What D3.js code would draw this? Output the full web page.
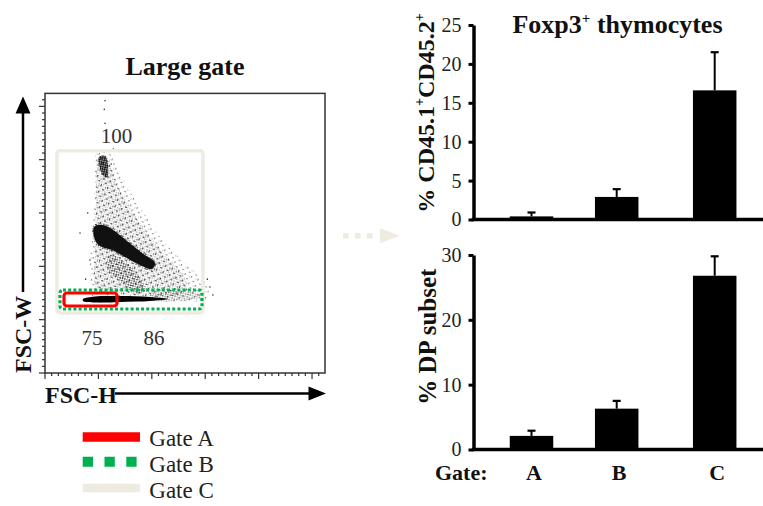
<!DOCTYPE html>
<html><head><meta charset="utf-8">
<script src="https://cdn.jsdelivr.net/npm/d3@7"></script>
<style>
body{margin:0;background:#fff;}
svg{display:block;font-family:"Liberation Serif","Times New Roman",serif;}
</style></head><body>
<svg id="c" width="763" height="506"></svg>
<script>
// ---------------- data ----------------
const gates = ["A", "B", "C"];
const foxp3Mean = [0.4, 2.9, 16.6];
const foxp3Err = [0.5, 1.0, 4.9];
const dpMean = [2.1, 6.3, 26.8];
const dpErr = [0.8, 1.2, 3.0];
const foxp3Ticks = [0, 5, 10, 15, 20, 25];
const dpTicks = [0, 10, 20, 30];
const legendLabels = ["Gate A", "Gate B", "Gate C"];
// flow plot values in FSC channel units (thousands)
const fscMax = 262.144;
const gateA = [17.8, 67.4, 62.8, 75.0];   // x0,x1,y0,y1
const gateB = [14.0, 147.0, 60.0, 77.8];
const gateC = [11.2, 147.9, 56.3, 208.4];
const gatePctLabels = ["100", "75", "86"];
const gatePctX = [67, 44, 102];
const gatePctY = [222, 33, 33];
// event-density regions
const sparseRegion = [[48.7,207.2],[59.0,207.2],[74.9,178.1],[90.8,152.8],[107.6,127.5],[131.0,103.1],[149.8,85.3],[152.6,70.3],[98.3,68.4],[46.8,68.4],[42.1,96.6],[44.9,134.1],[46.8,176.3]];
const mediumRegion = [[50.5,202.5],[58.0,202.5],[67.4,176.3],[79.6,154.7],[93.6,134.1],[112.3,110.6],[131.0,89.1],[131.0,75.0],[70.2,74.1],[48.7,77.8],[46.8,115.3],[47.7,162.2]];
const mediumTail = [[98.3,73.1],[145.1,74.9],[149.8,71.3],[98.3,68.4]];
const denseBand = [[60.8,110.6],[74.9,104.1],[87.0,91.9],[93.6,77.8],[84.2,75.0],[72.1,84.4],[58.0,98.4]];
const denseSpike = [[50.5,202.5],[56.2,203.4],[59.0,195.0],[58.0,182.8],[54.3,185.6],[50.5,195.0]];
const denseBlob = [[45.9,136.9],[54.3,138.8],[63.7,134.1],[76.8,123.8],[90.8,112.5],[103.0,103.1],[100.2,97.5],[88.9,101.3],[74.9,108.8],[62.7,115.3],[51.5,119.1],[46.8,124.7]];
const denseStreak = [[35.6,69.4],[46.8,71.8],[70.2,72.2],[98.3,71.3],[115.4,69.4],[98.3,67.5],[70.2,66.6],[46.8,66.1],[35.6,67.5]];
const outlierX = [56.2, 55.5, 56.2, 32.8, 42.1, 154.4, 157.2, 152.0, 62.0, 40.0, 38.0, 64.0];
const outlierY = [255.3, 247.2, 234.1, 131.3, 105.9, 80.6, 73.1, 88.0, 196.0, 150.0, 88.0, 210.0];

// ---------------- drawing ----------------
const svg = d3.select("#c");
const FONT = '"Liberation Serif","Times New Roman",serif';
const defs = svg.append("defs");
function pattern(id, size, rot, dots) {
  const p = defs.append("pattern").attr("id", id).attr("patternUnits","userSpaceOnUse")
    .attr("width", size).attr("height", size).attr("patternTransform", `rotate(${rot})`);
  dots.forEach(d => p.append("circle").attr("cx", d[0]).attr("cy", d[1]).attr("r", d[2]).attr("fill", "#111"));
}
pattern("pSparse", 7, 23, [[1,1.5,0.6],[4.6,4.9,0.55],[2.8,5.9,0.4]]);
pattern("pMed", 3.4, -31, [[0.8,0.8,0.7],[2.5,2.4,0.55]]);
pattern("pDense", 2.2, 12, [[1.1,1.1,1.05]]);

// ---- flow plot ----
const fx = d3.scaleLinear([0, fscMax], [45, 325]);
const fy = d3.scaleLinear([0, fscMax], [373, 93.4]);
const line = d3.line().x(d => fx(d[0])).y(d => fy(d[1])).curve(d3.curveCatmullRomClosed.alpha(0.5));

const flow = svg.append("g");
flow.append("path").datum(sparseRegion).attr("d", line).attr("fill","url(#pSparse)");
flow.append("path").datum(mediumRegion).attr("d", line).attr("fill","url(#pSparse)");
flow.append("path").datum(mediumRegion).attr("d", line).attr("fill","url(#pMed)").attr("opacity",0.4);
flow.append("path").datum(mediumTail).attr("d", line).attr("fill","url(#pMed)").attr("opacity",0.7);
flow.append("path").datum(denseBand).attr("d", line).attr("fill","url(#pMed)");
flow.append("path").datum(denseSpike).attr("d", line).attr("fill","url(#pDense)");
flow.append("path").datum(denseBlob).attr("d", line).attr("fill","#111");
flow.append("path").datum(denseBlob).attr("d", line).attr("fill","none").attr("stroke","url(#pMed)").attr("stroke-width",3);
flow.append("path").datum(denseStreak).attr("d", line).attr("fill","#000");
flow.selectAll("circle.out").data(outlierX).join("circle").attr("class","out")
  .attr("cx", d => fx(d)).attr("cy", (d,i) => fy(outlierY[i])).attr("r",0.8).attr("fill","#333");

// gates
function gateRect(g, color, w, dash) {
  const r = flow.append("rect")
    .attr("x", fx(g[0])).attr("y", fy(g[3]))
    .attr("width", fx(g[1]) - fx(g[0])).attr("height", fy(g[2]) - fy(g[3]))
    .attr("rx", 3).attr("fill","none").attr("stroke", color).attr("stroke-width", w);
  if (dash) r.attr("stroke-dasharray", dash);
}
gateRect(gateC, "#EEECE1", 3.5);
gateRect(gateB, "#00B050", 3.2, "3 2.2");
gateRect(gateA, "#FF0000", 3.2);

flow.selectAll("text.pct").data(gatePctLabels).join("text").attr("class","pct")
  .attr("x", (d,i) => fx(gatePctX[i])).attr("y", (d,i) => fy(gatePctY[i]))
  .attr("text-anchor","middle").attr("dominant-baseline","central")
  .attr("font-size",21).attr("fill","#333").text(d => d);

// box and ticks
flow.append("rect").attr("x",45).attr("y",fy(fscMax)).attr("width",fx(fscMax)-45)
  .attr("height",373-fy(fscMax)).attr("fill","none").attr("stroke","#333").attr("stroke-width",1.5);
const tickVals = d3.range(0, fscMax, 6.25);
flow.selectAll("line.yt").data(tickVals).join("line").attr("class","yt")
  .attr("x1",45).attr("x2", d => 45 - (d % 50 === 0 ? 6 : 3))
  .attr("y1", d => fy(d)).attr("y2", d => fy(d)).attr("stroke","#333").attr("stroke-width",1.2);
flow.selectAll("line.xt").data(tickVals).join("line").attr("class","xt")
  .attr("y1",373).attr("y2", d => 373 + (d % 50 === 0 ? 6 : 3))
  .attr("x1", d => fx(d)).attr("x2", d => fx(d)).attr("stroke","#333").attr("stroke-width",1.2);

// axis arrows
svg.append("line").attr("x1",23).attr("x2",23).attr("y1",292).attr("y2",110).attr("stroke","#000").attr("stroke-width",2.5);
svg.append("path").attr("d","M15.5,113.5 L23,96.5 L30.5,113.5 Z").attr("fill","#000");
svg.append("text").attr("transform","translate(31,373) rotate(-90)").attr("font-size",24)
  .attr("font-weight","bold").attr("fill","#111").text("FSC-W");
svg.append("text").attr("x",45).attr("y",403).attr("font-size",24)
  .attr("font-weight","bold").attr("fill","#111").text("FSC-H");
svg.append("line").attr("x1",115).attr("x2",312).attr("y1",393.5).attr("y2",393.5).attr("stroke","#000").attr("stroke-width",2.5);
svg.append("path").attr("d","M308.5,386.5 L326,393.5 L308.5,400.5 Z").attr("fill","#000");

svg.append("text").attr("x",185).attr("y",75).attr("text-anchor","middle").attr("font-size",26)
  .attr("font-weight","bold").attr("fill","#111").text("Large gate");

// legend
const leg = svg.append("g");
leg.append("line").attr("x1",82.7).attr("x2",140).attr("y1",437).attr("y2",437).attr("stroke","#FF0000").attr("stroke-width",9.5);
leg.append("line").attr("x1",82.7).attr("x2",140).attr("y1",461.7).attr("y2",461.7).attr("stroke","#00B050").attr("stroke-width",10).attr("stroke-dasharray","10.3 11.5");
leg.append("line").attr("x1",82.7).attr("x2",140).attr("y1",488).attr("y2",488).attr("stroke","#EEECE1").attr("stroke-width",8.5);
leg.selectAll("text").data(legendLabels).join("text")
  .attr("x",149.3).attr("y",(d,i) => [445.7,472.3,498.3][i])
  .attr("font-size",23).attr("fill","#222").text(d => d);

// arrow between panels
svg.append("line").attr("x1",343).attr("x2",378).attr("y1",235.7).attr("y2",235.7)
  .attr("stroke","#EEECE1").attr("stroke-width",5.5).attr("stroke-dasharray","5.5 6.5");
svg.append("path").attr("d","M380,228.3 L400,235.7 L380,243.3 Z").attr("fill","#EEECE1");

// ---- bar charts ----
const xb = d3.scaleOrdinal(gates, [531.5, 616.7, 714.7]);
const barW = 43.5;
const axisX = 473.5;

function barChart(yScale, ticks, means, errs) {
  const g = svg.append("g");
  g.selectAll("rect").data(gates).join("rect")
    .attr("x", d => xb(d) - barW/2).attr("width", barW)
    .attr("y", (d,i) => yScale(means[i])).attr("height", (d,i) => yScale(0) - yScale(means[i]))
    .attr("fill","#000");
  g.selectAll("line.err").data(gates).join("line").attr("class","err")
    .attr("x1", d => xb(d)).attr("x2", d => xb(d))
    .attr("y1", (d,i) => yScale(means[i])).attr("y2", (d,i) => yScale(means[i] + errs[i]))
    .attr("stroke","#000").attr("stroke-width",2);
  g.selectAll("line.cap").data(gates).join("line").attr("class","cap")
    .attr("x1", d => xb(d) - 4).attr("x2", d => xb(d) + 4)
    .attr("y1", (d,i) => yScale(means[i] + errs[i])).attr("y2", (d,i) => yScale(means[i] + errs[i]))
    .attr("stroke","#000").attr("stroke-width",2.2);
  const ax = g.append("g").attr("transform", `translate(${axisX},0)`)
    .call(d3.axisLeft(yScale).tickValues(ticks).tickSize(5).tickSizeOuter(0).tickPadding(7));
  ax.select(".domain").attr("stroke","#000").attr("stroke-width",3.5);
  ax.selectAll(".tick line").attr("stroke","#000").attr("stroke-width",3);
  ax.selectAll(".tick text").attr("font-family",FONT).attr("font-size",20).attr("fill","#222");
  g.append("line").attr("x1",axisX - 1.75).attr("x2",763).attr("y1",yScale(0)).attr("y2",yScale(0))
    .attr("stroke","#000").attr("stroke-width",3.5);
  return g;
}
const yTop = d3.scaleLinear([0, 25], [219.5, 25]);
const yBot = d3.scaleLinear([0, 30], [449.5, 255]);
barChart(yTop, foxp3Ticks, foxp3Mean, foxp3Err);
barChart(yBot, dpTicks, dpMean, dpErr);

// titles & labels
const t1 = svg.append("text").attr("x",617.5).attr("y",33).attr("text-anchor","middle")
  .attr("font-size",26).attr("font-weight","bold").attr("fill","#111");
t1.append("tspan").text("Foxp3");
t1.append("tspan").attr("font-size",15).attr("dy",-10).text("+");
t1.append("tspan").attr("dy",10).text(" thymocytes");

const yl1 = svg.append("text").attr("transform","translate(434,113) rotate(-90)").attr("text-anchor","middle")
  .attr("font-size",24).attr("font-weight","bold").attr("fill","#111");
yl1.append("tspan").text("% CD45.1");
yl1.append("tspan").attr("font-size",14).attr("dy",-10).text("+");
yl1.append("tspan").attr("dy",10).text("CD45.2");
yl1.append("tspan").attr("font-size",14).attr("dy",-10).text("+");

svg.append("text").attr("transform","translate(436,336.7) rotate(-90)").attr("text-anchor","middle")
  .attr("font-size",25).attr("font-weight","bold").attr("fill","#111").text("% DP subset");

svg.append("text").attr("x",435).attr("y",480).attr("font-size",22).attr("font-weight","bold").attr("fill","#111").text("Gate:");
svg.selectAll("text.gl").data(gates).join("text").attr("class","gl")
  .attr("x", d => xb(d) + 2.5).attr("y",480).attr("text-anchor","middle")
  .attr("font-size",22).attr("font-weight","bold").attr("fill","#111").text(d => d);
</script>
</body></html>
